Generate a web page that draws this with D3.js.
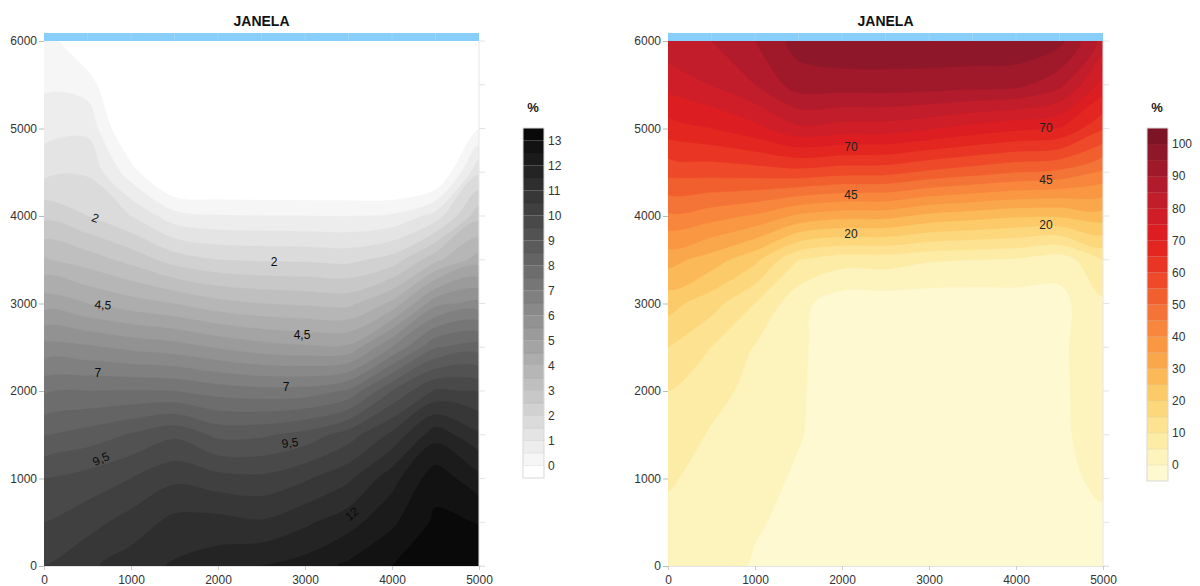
<!DOCTYPE html>
<html lang="pt">
<head>
<meta charset="UTF-8">
<title>JANELA</title>
<script src="https://d3js.org/d3.v7.min.js"></script>
<style>
  body { margin: 0; background: #fff; }
  svg { display: block; font-family: "Liberation Sans", Arial, sans-serif; }
  .tick text { fill: #333; font-size: 12px; }
</style>
</head>
<body>
<svg width="1200" height="586"></svg>
<script>
// grid of the contour maps (x across, y up)
const gridX = [0, 500, 1000, 1500, 2000, 2500, 3000, 3500, 4000, 4500, 5000];
const gridY = [0, 500, 1000, 1500, 2000, 2500, 3000, 3500, 4000, 4500, 5000, 5500, 6000];
const xTicks = [0, 1000, 2000, 3000, 4000, 5000];
const yTicks = [0, 1000, 2000, 3000, 4000, 5000, 6000];

// left map, one column per gridX, values from y = 0 up to y = 6000
const grayCols = [
  [10.5, 10.0, 9.5, 8.46, 7.42, 6.17, 4.78, 3.55, 2.36, 1.34, 0.81, 0.42, 0.3],
  [10.9, 10.3, 9.7, 8.71, 7.5, 6.08, 4.5, 3.25, 2.0, 1.44, 0.88, 0.28, -0.6],
  [11.25, 10.71, 10.0, 9.04, 7.52, 5.87, 4.22, 2.83, 1.49, 0.21, -0.7, -1, -1],
  [11.56, 11.15, 10.39, 9.4, 7.5, 5.72, 3.99, 2.27, 0.69, -0.9, -1, -1, -1],
  [11.78, 11.18, 10.19, 8.87, 7.28, 5.45, 3.67, 2.0, 0.54, -0.9, -1, -1, -1],
  [12.0, 11.06, 10.12, 8.91, 7.17, 5.21, 3.5, 1.94, 0.52, -0.9, -1, -1, -1],
  [12.2, 11.4, 10.43, 9.18, 7.2, 5.09, 3.42, 1.92, 0.51, -0.9, -1, -1, -1],
  [12.6, 11.8, 10.9, 9.75, 7.58, 5.1, 3.36, 1.86, 0.49, -0.9, -1, -1, -1],
  [13.0, 12.4, 11.8, 10.61, 9.0, 6.5, 4.12, 2.19, 0.57, -1.0, -1, -1, -1],
  [13.35, 13.1, 12.8, 11.8, 10.07, 7.95, 5.84, 3.36, 1.2, -0.8, -1, -1, -1],
  [13.3, 12.98, 12.16, 11.09, 9.95, 8.25, 6.17, 4.22, 2.83, 1.41, -0.05, -0.6, -1]
];
const grayLevels = d3.range(-0.5, 13.51, 0.5);
const grayTicks = [0, 1, 2, 3, 4, 5, 6, 7, 8, 9, 10, 11, 12, 13];
const grayLabels = [
  { t: "2", x: 590, y: 3977, r: 20 },
  { t: "2", x: 2644, y: 3474, r: 0 },
  { t: "4,5", x: 678, y: 2983, r: 5 },
  { t: "4,5", x: 2966, y: 2640, r: 0 },
  { t: "7", x: 620, y: 2206, r: 0 },
  { t: "7", x: 2782, y: 2046, r: 0 },
  { t: "9,5", x: 655, y: 1223, r: -25 },
  { t: "9,5", x: 2828, y: 1406, r: -8 },
  { t: "12", x: 3540, y: 594, r: -40 }
];

// right map
const redCols = [
  [3.0, 3.9, 5.44, 7.7, 9.95, 15, 21.8, 31.9, 43.9, 56.4, 67.6, 76.8, 83],
  [2.0, 2.84, 3.68, 4.53, 6.5, 9.95, 17.0, 27.6, 42.0, 56.8, 69.9, 80.2, 85],
  [-0.5, 0.5, 1.54, 2.59, 3.63, 4.67, 9.94, 21.25, 39.2, 57.4, 73.4, 85, 90],
  [-2, -1.3, -0.6, 0.3, 0.5, 0.6, 1.5, 10, 33.9, 58.2, 78.9, 92.5, 97],
  [-2.2, -2.2, -2.2, -2.2, -2.2, -2, -3, 7.0, 31.7, 56.8, 77.7, 92.6, 99],
  [-2.2, -2.2, -2.2, -2.2, -2.2, -2, -3, 7.2, 31.5, 56.5, 77.5, 92.8, 99],
  [-2.2, -2.2, -2.2, -2.2, -2.2, -2, -3, 5.5, 28.5, 54, 75.5, 92.5, 99],
  [-2.2, -2.2, -2.2, -2.2, -2.2, -2, -3, 5, 27, 52, 73, 92, 99],
  [-2, -2, -2, -2, -2, -2, -2.5, 4.3, 25.6, 50, 71, 91.5, 99],
  [-1.8, -1.5, -1.2, -1.0, -1.0, -1.0, -1.5, 2, 25.5, 48.7, 69.7, 86.5, 96.5],
  [-1.5, -0.8, 1, 2.5, 3, 3.5, 4, 10, 27.5, 44.1, 60.6, 73.1, 83]
];
const redLevels = d3.range(-5, 105.1, 5);
const redTicks = [0, 10, 20, 30, 40, 50, 60, 70, 80, 90, 100];
const redLabels = [
  { t: "70", x: 2103, y: 4789, r: 0 },
  { t: "70", x: 4345, y: 5006, r: 0 },
  { t: "45", x: 2103, y: 4240, r: 0 },
  { t: "45", x: 4345, y: 4411, r: 0 },
  { t: "20", x: 2103, y: 3794, r: 0 },
  { t: "20", x: 4345, y: 3897, r: 0 }
];

const grayColor = d3.scaleLinear().domain([-0.5, 13.5]).range(["#ffffff", "#000000"]);
const redPalette = ["#fef9d0","#fdf3bd","#fdeca6","#fde391","#fcd77c","#fcca68","#fbb957","#faa74b",
  "#f99743","#f8863c","#f47336","#f15f2f","#ee4a29","#e93624","#e32620","#dc1e22","#cf1e27","#c21d2a",
  "#b21b2b","#a0192b","#8f172a","#7d1426"];
const redColor = v => redPalette[Math.round((v + 5) / 5)];

const svg = d3.select("svg");

function panel(o) {
  const x = d3.scaleLinear().domain([0, 5000]).range([o.left, o.left + 435]);
  const y = d3.scaleLinear().domain([0, 6000]).range([566, 41]);
  const g = svg.append("g");

  const nx = gridX.length, ny = gridY.length;
  const values = [];
  for (let j = 0; j < ny; j++) for (let i = 0; i < nx; i++) values.push(o.cols[i][j]);
  const dx = gridX[1] - gridX[0], dy = gridY[1] - gridY[0];
  const px = c => x(gridX[0] + (c - 0.5) * dx);
  const py = c => y(gridY[0] + (c - 0.5) * dy);
  const ringLine = d3.line().curve(d3.curveCatmullRomClosed.alpha(0.5));
  const bandPath = d => d.coordinates
    .map(poly => poly.map(ring => ringLine(ring.slice(0, -1).map(p => [px(p[0]), py(p[1])]))).join(""))
    .join("");
  const bands = d3.contours().size([nx, ny]).thresholds(o.levels.slice(0, -1))(values);

  g.append("clipPath").attr("id", o.id)
    .append("rect").attr("x", x(0)).attr("y", y(6000)).attr("width", x(5000) - x(0)).attr("height", y(0) - y(6000));

  g.append("g").attr("clip-path", `url(#${o.id})`)
    .selectAll("path").data(bands).join("path")
      .attr("d", bandPath)
      .attr("fill-rule", "evenodd")
      .attr("fill", d => o.color(d.value))
      .attr("stroke", d => o.color(d.value))
      .attr("stroke-width", 0.3);

  // light frame on right / bottom
  g.append("line").attr("x1", x(5000)).attr("x2", x(5000)).attr("y1", y(6000)).attr("y2", y(0))
    .attr("stroke", "#e6e6e6");
  g.selectAll(".rtick").data(gridY).join("line").attr("class", "rtick")
    .attr("x1", x(5000)).attr("x2", x(5000) + 6).attr("y1", d => y(d)).attr("y2", d => y(d))
    .attr("stroke", "#e3e3e3");

  // blue strip on top
  g.append("rect").attr("x", x(0)).attr("y", y(6000) - 8).attr("width", x(5000) - x(0)).attr("height", 8)
    .attr("fill", "#87cefa");
  g.selectAll(".stick").data(gridX.slice(1, -1)).join("line").attr("class", "stick")
    .attr("x1", d => x(d)).attr("x2", d => x(d)).attr("y1", y(6000) - 8).attr("y2", y(6000))
    .attr("stroke", "#9bd5f8").attr("stroke-width", 1);

  const ya = g.append("g").attr("transform", `translate(${x(0)},0)`)
    .call(d3.axisLeft(y).tickValues(yTicks).tickFormat(d3.format("d")).tickSize(5).tickPadding(2));
  ya.select(".domain").remove();
  ya.selectAll(".tick line").attr("stroke", "#bbb");

  const xa = g.append("g").attr("transform", `translate(0,${y(0)})`)
    .call(d3.axisBottom(x).tickValues(xTicks).tickFormat(d3.format("d")).tickSize(4).tickPadding(5));
  xa.select(".domain").attr("stroke", "#e3e3e3").attr("d", `M${x(0)},0.5H${x(5000) + 6}`);
  xa.selectAll(".tick line").attr("stroke", "#ccc");

  g.append("text").attr("x", (x(0) + x(5000)) / 2).attr("y", 26)
    .attr("text-anchor", "middle").attr("font-size", 14).attr("font-weight", "bold").attr("fill", "#111")
    .text("JANELA");

  g.selectAll(".clab").data(o.labels).join("text").attr("class", "clab")
    .attr("transform", d => `translate(${x(d.x)},${y(d.y)}) rotate(${d.r})`)
    .attr("text-anchor", "middle").attr("dominant-baseline", "central")
    .attr("font-size", 12).attr("fill", o.labelFill)
    .text(d => d.t);

  // colour bar
  const cb = d3.scaleLinear().domain([o.levels[0], o.levels[o.levels.length - 1]]).range([o.cbBottom, 128]);
  const cg = svg.append("g");
  cg.selectAll("rect").data(o.levels.slice(0, -1)).join("rect")
    .attr("x", o.cbX).attr("width", 21)
    .attr("y", (d, i) => cb(o.levels[i + 1]))
    .attr("height", (d, i) => cb(o.levels[i]) - cb(o.levels[i + 1]))
    .attr("fill", d => o.color(d))
    .attr("stroke", "rgba(0,0,0,0.07)").attr("stroke-width", 0.6);
  cg.append("rect").attr("x", o.cbX).attr("y", 128).attr("width", 21).attr("height", o.cbBottom - 128)
    .attr("fill", "none").attr("stroke", "#ddd");
  const ca = cg.append("g").attr("transform", `translate(${o.cbX + 21},0)`)
    .call(d3.axisRight(cb).tickValues(o.ticks).tickSize(0).tickPadding(4));
  ca.select(".domain").remove();
  cg.append("text").attr("x", o.cbX + 10).attr("y", 112).attr("text-anchor", "middle")
    .attr("font-size", 13).attr("font-weight", "bold").attr("fill", "#222").text("%");
}

panel({ id: "clipL", left: 44, cols: grayCols, levels: grayLevels, color: grayColor, labelFill: "#0a0a0a",
  labels: grayLabels, ticks: grayTicks, cbX: 523, cbBottom: 478 });
panel({ id: "clipR", left: 668, cols: redCols, levels: redLevels, color: redColor, labelFill: "#222",
  labels: redLabels, ticks: redTicks, cbX: 1147, cbBottom: 481 });
</script>
</body>
</html>
